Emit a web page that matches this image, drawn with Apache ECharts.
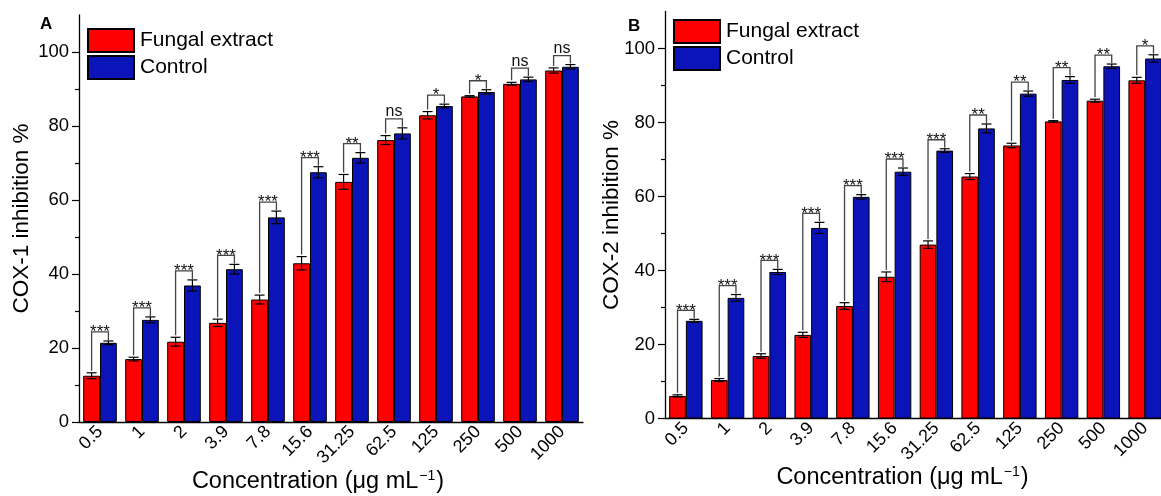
<!DOCTYPE html>
<html><head><meta charset="utf-8">
<script src="https://cdn.jsdelivr.net/npm/echarts@6/dist/echarts.min.js"></script>
<style>html,body{margin:0;padding:0;background:#fff}#c{width:1161px;height:496px}</style>
</head><body><div id="c"></div>
<script>
const categories = ['0.5','1','2','3.9','7.8','15.6','31.25','62.5','125','250','500','1000'];
const cox1Fungal     = [12.5,17.0,21.7,26.8,33.1,42.9,64.9,76.2,82.9,88.0,91.4,95.0];
const cox1FungalErr  = [0.8,0.5,1.2,1.0,1.2,1.8,2.0,1.2,1.0,0.2,0.4,0.7];
const cox1Control    = [21.4,27.6,36.9,41.3,55.3,67.5,71.4,78.0,85.4,89.2,92.6,96.0];
const cox1ControlErr = [0.5,0.8,1.5,1.3,1.7,1.5,1.4,1.5,0.5,0.6,0.6,0.6];
const cox1Sig = ['***','***','***','***','***','***','**','ns','*','*','ns','ns'];
const cox2Fungal     = [6.1,10.4,16.9,22.6,30.4,38.3,47.0,65.4,73.8,80.3,85.9,91.4];
const cox2FungalErr  = [0.3,0.4,0.6,0.7,0.9,1.3,1.0,0.8,0.6,0.2,0.4,0.8];
const cox2Control    = [26.4,32.6,39.6,51.5,59.9,66.7,72.4,78.4,87.8,91.5,95.2,97.3];
const cox2ControlErr = [0.4,0.9,0.7,1.5,0.6,1.0,0.5,1.2,0.7,0.9,0.6,1.0];
const cox2Sig = ['***','***','***','***','***','***','***','**','**','**','**','*'];
const yTicks = [0,20,40,60,80,100];
const yMinorTicks = [10,30,50,70,90];
const seriesNames = ['Fungal extract','Control'];

const FONT = '"Liberation Sans", Arial, sans-serif';
const RED = '#ff0000', BLUE = '#0a14b8';

const chart = echarts.init(document.getElementById('c'));

function xAxes(gi, gapName, padRight) {
  return [{
    type:'category', gridIndex:gi, data:categories, position:'bottom',
    axisLine:{lineStyle:{color:'#000', width:1.3}},
    axisTick:{alignWithLabel:true, length:5, lineStyle:{color:'#000', width:1.2}},
    axisLabel:{rotate:45, fontSize:18, color:'#000', fontFamily:FONT, margin:7},
    name:'{a|Concentration (μg mL}{s|−1}{a|)}', nameLocation:'middle', nameGap:gapName,
    nameMoveOverlap:false,
    nameTextStyle:{padding:[0,padRight,0,0], rich:{
      a:{fontSize:23.5, fontFamily:FONT, color:'#000', lineHeight:26},
      s:{fontSize:14, fontFamily:FONT, color:'#000', lineHeight:26, verticalAlign:'top', padding:[0,1,11,1]}
    }}
  },{
    type:'category', gridIndex:gi, data:categories, position:'bottom',
    axisLine:{show:false}, axisLabel:{show:false},
    axisTick:{length:3, lineStyle:{color:'#000', width:1.2}}
  }];
}
function yAxes(gi, name, gap) {
  return [{
    type:'value', gridIndex:gi, min:0, max:110, interval:20, position:'left',
    axisLine:{show:true, lineStyle:{color:'#000', width:1.3}},
    axisTick:{show:true, length:7, customValues:yTicks, lineStyle:{color:'#000', width:1.2}},
    axisLabel:{customValues:yTicks, fontSize:18.5, color:'#000', fontFamily:FONT, margin:10},
    splitLine:{show:false},
    name:name, nameLocation:'middle', nameGap:gap, nameMoveOverlap:false,
    nameTextStyle:{fontSize:22.5, fontFamily:FONT, color:'#000'}
  },{
    type:'value', gridIndex:gi, min:0, max:110, interval:10, position:'left',
    axisLine:{show:false}, axisLabel:{show:false}, splitLine:{show:false},
    axisTick:{show:true, length:4, customValues:yMinorTicks, lineStyle:{color:'#000', width:1.2}}
  }];
}

function barSeries(gi, fungal, control) {
  return [
    {name:seriesNames[0], type:'bar', xAxisIndex:gi*2, yAxisIndex:gi*2, data:fungal,
     barWidth:'40%', barGap:'0%', itemStyle:{color:RED, borderColor:'#000', borderWidth:1}},
    {name:seriesNames[1], type:'bar', xAxisIndex:gi*2, yAxisIndex:gi*2, data:control,
     barWidth:'40%', barGap:'0%', itemStyle:{color:BLUE, borderColor:'#000', borderWidth:1}}
  ];
}

function annotSeries(gi, fungal, fErr, control, cErr, sig) {
  const data = categories.map((c,i)=>[i, fungal[i], fErr[i], control[i], cErr[i]]);
  return {
    type:'custom', xAxisIndex:gi*2, yAxisIndex:gi*2, data:data, z:10, silent:true,
    encode:{x:0, y:[1,3]}, clip:false,
    renderItem:function(params, api){
      const i = api.value(0);
      const band = api.size([1,0])[0];
      const bw = band*0.4;
      const cx = api.coord([i,0])[0];
      const rx = cx - bw/2, bx = cx + bw/2;
      const f = api.value(1), fe = api.value(2), ct = api.value(3), ce = api.value(4);
      const ls = {stroke:'#000', lineWidth:1.2};
      const kids = [];
      function err(x, m, e){
        const t = api.coord([i, m+e])[1], b = api.coord([i, m-e])[1], h = 5;
        kids.push({type:'line', shape:{x1:x,y1:t,x2:x,y2:b}, style:ls});
        kids.push({type:'line', shape:{x1:x-h,y1:t,x2:x+h,y2:t}, style:ls});
        kids.push({type:'line', shape:{x1:x-h,y1:b,x2:x+h,y2:b}, style:ls});
      }
      err(rx, f, fe); err(bx, ct, ce);
      const rTop = api.coord([i, f+fe])[1], bTop = api.coord([i, ct+ce])[1];
      const yTop = Math.min(rTop, bTop) - 9;
      kids.push({type:'polyline', shape:{points:[[rx, rTop-2],[rx, yTop],[bx, yTop],[bx, bTop-1]]},
                 style:{stroke:'#444', lineWidth:1.3, fill:null}});
      const s = sig[i];
      const isNs = s === 'ns';
      kids.push({type:'text', style:{text:s, x:cx, y: isNs ? yTop+1 : yTop+9, align:'center', verticalAlign:'bottom',
                 fontSize: isNs ? 16 : 17, fontFamily:FONT, fill:'#111'}});
      return {type:'group', children:kids};
    }
  };
}

const legendBase = {
  orient:'vertical', icon:'rect', itemWidth:46, itemHeight:23, itemGap:2,
  textStyle:{fontSize:21, fontFamily:FONT, color:'#000', padding:[0,0,0,1]},
  data:seriesNames, selectedMode:false
};

chart.setOption({
  animation:false,
  backgroundColor:'#fff',
  title:[
    {text:'A', left:40, top:16, textStyle:{fontSize:17, fontWeight:'bold', fontFamily:FONT, color:'#000'}, padding:0},
    {text:'B', left:628, top:18, textStyle:{fontSize:17, fontWeight:'bold', fontFamily:FONT, color:'#000'}, padding:0}
  ],
  legend:[
    Object.assign({}, legendBase, {left:87, top:28, padding:0}),
    Object.assign({}, legendBase, {left:673, top:19, padding:0})
  ],
  grid:[
    {left:79, width:504, top:15, height:407, outerBoundsMode:'none'},
    {left:665, width:501, top:11.5, height:407, outerBoundsMode:'none'}
  ],
  xAxis:[].concat(xAxes(0, 47, 26), xAxes(1, 46.5, 26)),
  yAxis:[].concat(yAxes(0, 'COX-1 inhibition %', 45.5), yAxes(1, 'COX-2 inhibition %', 41.5)),
  series:[].concat(
    barSeries(0, cox1Fungal, cox1Control),
    barSeries(1, cox2Fungal, cox2Control),
    [annotSeries(0, cox1Fungal, cox1FungalErr, cox1Control, cox1ControlErr, cox1Sig),
     annotSeries(1, cox2Fungal, cox2FungalErr, cox2Control, cox2ControlErr, cox2Sig)]
  )
});
</script></body></html>
